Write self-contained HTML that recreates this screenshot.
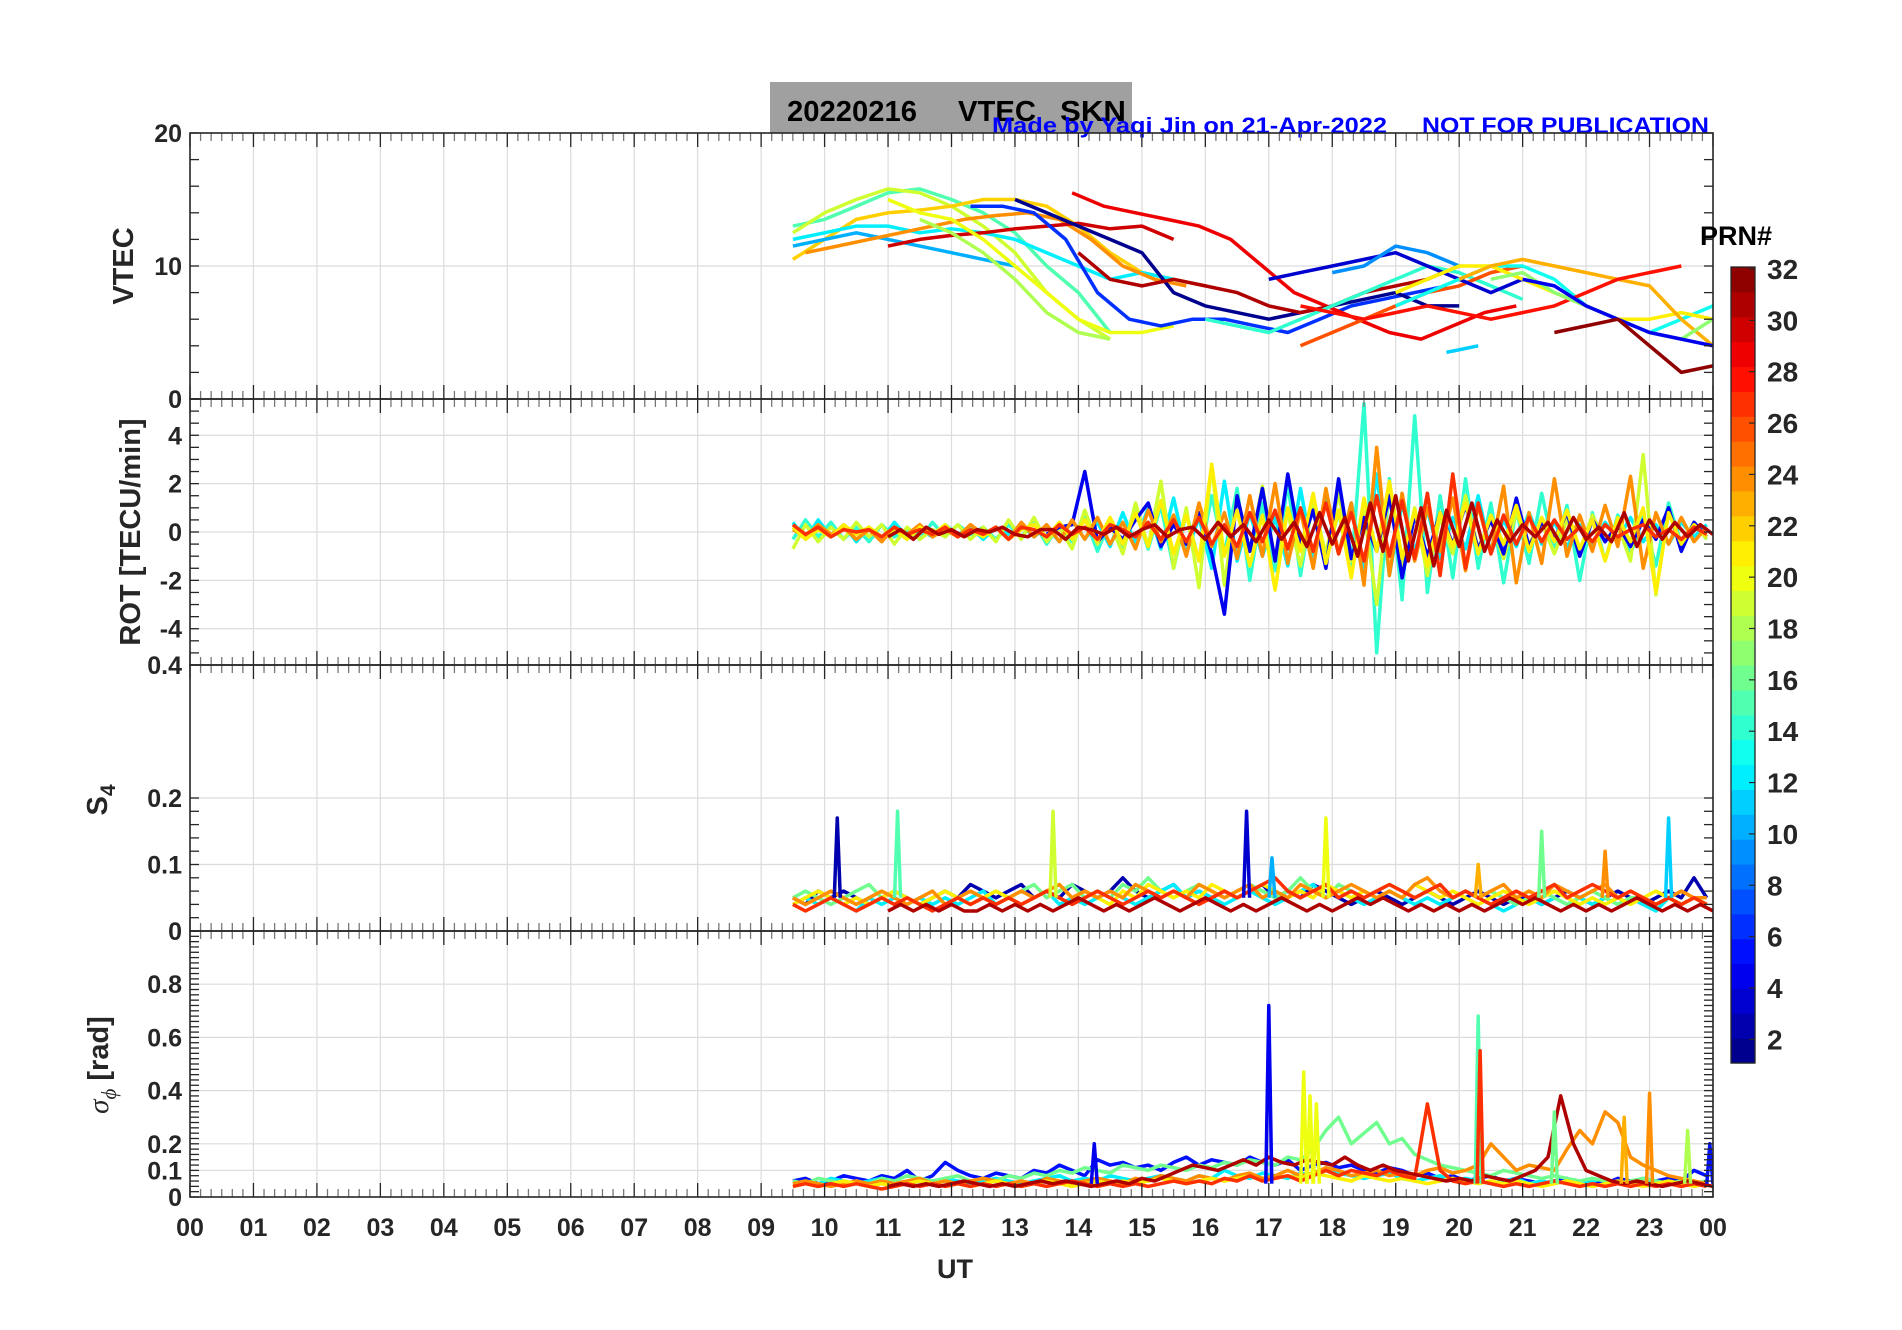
<!DOCTYPE html>
<html><head><meta charset="utf-8"><style>
html,body{margin:0;padding:0;background:#fff;}
svg{display:block;font-family:"Liberation Sans",Arial,sans-serif;}
</style></head><body>
<svg id="fig" width="1902" height="1330" viewBox="0 0 1902 1330" xmlns="http://www.w3.org/2000/svg"></svg>
<script>
// ---------------- DATA ----------------
const hourLabels = ["00","01","02","03","04","05","06","07","08","09","10","11","12","13","14","15","16","17","18","19","20","21","22","23","00"];
const prnLabels = [2,4,6,8,10,12,14,16,18,20,22,24,26,28,30,32];

// VTEC tracks (step 0.5 h)
const vtecPrn   = [15,19,22,12,10,24,30,20,18,6,1,29,31,14,26,3,9,13,11,21,23,28,17,4,32];
const vtecStart = [9.5,9.5,9.5,9.5,9.5,9.7,11.0,11.0,11.5,12.3,13.0,13.9,14.0,16.0,17.5,17.0,18.0,19.0,19.8,19.0,20.0,17.5,20.5,21.0,21.5];
const vtecVals = [
 "13 13.5 14.5 15.5 15.8 15 14 12.5 10 8 5",
 "12.5 14 15 15.8 15.5 14.5 13 11 8 6 4.5",
 "10.5 12 13.5 14 14.2 14.5 15 15 14.5 13 11 9.5 9 8.5",
 "12 12.5 13 13 12.5 12.8 12.5 12 11 10 9 9.5 9",
 "11.5 12 12.5 12 11.5 11 10.5 10",
 "11 11.5 12 12.5 13 13.5 13.8 14 13.5 12 10 9 8.5",
 "11.5 12 12.3 12.5 12.8 13 13.2 12.8 13 12",
 "15 14 13.5 12 10 8 6 5 5 5.5",
 "13.5 12.5 11 9 6.5 5 4.5",
 "14.5 14.5 14 12 8 6 5.5 6 6 5.5 5 6 7 7.5 8 8.5",
 "15 14 13 12 11 8 7 6.5 6 6.5 7 7.5 8 7 7",
 "15.5 14.5 14 13.5 13 12 10 8 7 6 5 4.5 5.5 6.5 7",
 "11 9 8.5 9 8.5 8 7 6.5 7 8 8.5 9 10",
 "6 5.5 5 6 7 8 9 10 9.5 8.5 7.5",
 "4 5 6 7 8 8.5 9.5 10",
 "9 9.5 10 10.5 11 10 9 8 9",
 "9.5 10 11.5 11 10",
 "7 8 9 10 10 9 7 6 5 6 7 8 9 8.5",
 "3.5 4",
 "8 9 10 10 9 8 7 6 6 6.5 6",
 "9 10 10.5 10 9.5 9 8.5 6 4",
 "7 6.5 6 6.5 7 6.5 6 6.5 7 8 9 9.5 10",
 "9 9.5 8 7 6 5 4.5 6",
 "9 8.5 7 6 5 4.5 4",
 "5 5.5 6 4 2 2.5"
];

// ROT series (step 0.2 h)
const rotPrn   = [12,14,19,4,24,21,27,31];
const rotStart = [9.5,9.5,9.5,13.5,9.5,9.5,9.5,11.0];
const rotVals = [
 ".4 -.3 .5 -.2 .3 -.4 .2 -.3 .4 -.2 .1 -.2 .3 -.1 .2 -.3 .2 -.1 .3 -.2 .2 -.4 .5 -.3 .4 -.6 .8 -.5 1 -.7 1.4 -.9 .6 -1.5 2.1 -1.2 .8 -1 .6 -1.4 1.8 -1.1 1.3 -.9 1.2 -1.6 2.4 -1.8 1.2 -.8 .9 -1.1 .6 -.7 1.5 -.9 .5 -.6 .8 -.5 .4 -.6 .3 -.5 .4 -.3 .6 -.4 .3 -.5 .4 -.2 .3",
 "-.3 .5 -.2 .4 -.3 .2 -.4 .3 -.2 .1 -.3 .4 -.2 .3 -.1 .2 -.3 .3 -.2 .4 -.5 .3 -.4 .6 -.8 .5 -.6 .9 -.7 1.1 -1.5 .8 -1.2 1.5 -.9 1.8 -2 1.2 -1.6 2 -1.8 1.4 -1.1 .8 -1.6 5.3 -5 2.2 -2.8 4.8 -2.5 1.5 -1.9 2.2 -1.5 1.2 -2.1 .9 -1.3 1.6 -.8 1.1 -2 .8 -1.2 .7 -.9 .6 -1.4 1.2 -.5 .4 -.3",
 "-.7 .3 -.4 .2 -.3 .4 -.2 .3 -.5 .2 -.3 .1 -.2 .3 -.3 .2 -.4 .5 -.3 .6 -.4 .2 -.7 .9 -.5 .4 -.9 1.2 -.6 2.1 -1.5 1 -2.3 2.8 -2.2 1.5 -.8 1.9 -1.2 .8 -1.4 1.2 -.9 1.6 -1.2 .9 -3 2 -1.4 1 -1.8 .6 -.9 1.5 -.7 .5 -1.1 .8 -.5 .4 -.9 .5 -.8 .7 -.4 .3 -1.2 3.2 -2.6 .9 -.6 .4 -.3",
 "-.1 .2 .3 2.5 -.4 .2 -.3 .5 1.2 -.6 .3 -.5 .8 -.9 -3.4 1.5 -.8 1.8 -1.2 2.4 -.6 .9 -1.5 2.2 -1.1 .6 -.8 1.5 -1.9 .7 -1 .8 -.5 1.1 -.7 .5 -.9 1.4 -.6 .4 -.3 .8 -1 .5 -.4 .3 -.6 .5 -.3 1 -.8 .4 -.2",
 ".1 -.2 .3 -.1 .2 -.3 .1 -.4 .2 -.1 .3 -.2 .1 -.2 .3 -.1 .2 -.3 .4 -.2 .3 -.4 .5 -.3 .6 -.5 .4 -.7 .9 -.4 .7 -1 1.2 -.6 .8 -1.1 1.5 -1 2 -1.3 .9 -1.5 1.8 -.9 1.2 -2.2 3.5 -1.8 1.6 -1.2 1 -.8 1.4 -1.6 1.1 -.9 1.9 -2.1 .8 -1.3 2.2 -1 .7 -.8 1.1 -.6 2.3 -1.5 .8 -.5 .6 -.4 .2",
 ".2 -.3 .1 -.2 .3 -.1 .2 -.2 .1 -.3 .2 -.1 .3 -.2 .1 -.2 .2 -.3 .1 .3 -.2 .4 -.3 .5 -.4 .6 -.5 .8 -.6 1.3 -.9 .7 -1.2 2.8 -1 .9 -1.4 .7 -2.4 1 -.8 1.6 -1.3 .9 -1.9 1.4 -.8 2.1 -1.1 .9 -1.4 .8 -.6 1.2 -.9 .7 -.5 1.1 -.8 .6 -.4 .9 -.7 .5 -1.2 .6 -.4 1 -2.5 .8 -.5 .3 -.2",
 ".3 -.1 .2 -.2 .1 0 .1 -.2 .2 -.1 .1 -.1 .2 -.2 .1 -.1 .2 -.3 .2 .1 -.2 .3 -.1 .2 -.3 .3 .1 -.2 .4 -.3 .5 -.4 .6 -.5 .3 -.6 .8 -.4 .9 -.7 1 -.8 1.2 -.9 .8 -1.2 1.5 -1 1.3 -1.1 1.6 -1.8 2.4 -1.5 1.2 -.9 .7 -.5 .6 -.4 .5 -.3 .2 -.4 .3 -.2 .1 .3 -.2 .1 -.3 .2 -.1",
 "-.2 .1 -.3 .2 -.1 .1 -.2 .1 0 .2 -.1 -.2 .1 .1 -.3 .2 .1 -.1 .2 -.2 .1 .3 -.2 .1 .2 -.3 .4 -.2 .3 -.4 .5 -.3 .4 -.6 .8 -.5 .6 -1 1.2 -.8 1.5 -1.2 1 -1.4 .9 -.6 1.2 -.8 .5 -.4 .3 -.2 .4 -.5 .6 -.3 .2 -.4 .8 -.6 .5 -.3 .4 -.2 .3 -.1"
];

// S4 baselines (step 0.2 h)
const s4Prn   = [2,12,16,21,24,27,31];
const s4Start = [9.5,9.5,9.5,9.5,9.5,9.5,11.0];
const s4Vals = [
 ".05 .04 .06 .05 .06 .05 .04 .05 .06 .05 .04 .05 .06 .05 .07 .06 .05 .06 .07 .05 .06 .05 .07 .06 .05 .06 .08 .06 .05 .06 .07 .05 .06 .05 .06 .05 .06 .07 .05 .06 .05 .07 .06 .05 .04 .05 .06 .05 .04 .05 .06 .05 .04 .05 .06 .05 .04 .05 .05 .04 .05 .06 .05 .04 .05 .06 .05 .04 .05 .06 .05 .08 .05",
 ".04 .05 .04 .05 .04 .03 .05 .04 .05 .04 .05 .04 .05 .04 .05 .06 .04 .05 .04 .05 .06 .04 .05 .04 .05 .06 .05 .04 .05 .06 .07 .05 .06 .05 .04 .05 .06 .05 .04 .05 .06 .07 .05 .06 .05 .04 .05 .06 .05 .04 .05 .04 .05 .06 .05 .04 .03 .04 .05 .04 .05 .04 .05 .04 .05 .04 .05 .04 .03 .05 .04 .05 .04",
 ".05 .06 .05 .04 .05 .06 .07 .05 .06 .05 .04 .05 .06 .05 .04 .05 .06 .05 .06 .07 .05 .06 .07 .05 .06 .05 .07 .06 .08 .06 .05 .06 .07 .06 .05 .06 .07 .06 .05 .06 .08 .06 .05 .07 .06 .05 .06 .07 .06 .05 .06 .07 .05 .06 .05 .06 .05 .04 .05 .06 .05 .04 .05 .06 .05 .04 .05 .05 .04 .05 .04 .05 .04",
 ".04 .05 .06 .05 .04 .05 .04 .05 .06 .05 .04 .05 .06 .05 .04 .05 .06 .05 .04 .05 .06 .07 .05 .06 .05 .04 .06 .05 .07 .06 .05 .06 .05 .07 .06 .05 .06 .07 .06 .05 .06 .05 .07 .06 .05 .06 .05 .06 .05 .07 .06 .05 .06 .05 .04 .05 .06 .05 .04 .05 .06 .05 .04 .05 .04 .05 .04 .05 .06 .05 .04 .05 .04",
 ".05 .04 .05 .06 .05 .04 .05 .06 .05 .04 .05 .06 .04 .05 .06 .05 .04 .05 .06 .05 .06 .07 .05 .06 .05 .06 .05 .07 .06 .05 .06 .05 .07 .06 .05 .06 .07 .05 .06 .05 .07 .06 .05 .06 .07 .06 .05 .06 .05 .07 .08 .06 .05 .06 .05 .06 .07 .05 .06 .05 .07 .06 .05 .06 .07 .05 .06 .05 .04 .05 .06 .05 .05",
 ".04 .03 .04 .05 .04 .03 .04 .05 .04 .05 .04 .03 .04 .05 .04 .05 .04 .05 .04 .05 .06 .05 .04 .05 .06 .05 .04 .05 .06 .05 .06 .05 .04 .05 .06 .05 .06 .07 .08 .06 .05 .06 .07 .05 .06 .05 .06 .07 .06 .05 .06 .07 .05 .06 .05 .04 .05 .06 .05 .06 .07 .05 .06 .07 .06 .05 .06 .05 .04 .05 .04 .05 .04",
 ".03 .04 .03 .04 .03 .04 .03 .03 .04 .03 .04 .03 .04 .03 .04 .05 .04 .03 .04 .03 .04 .05 .04 .03 .04 .05 .04 .03 .04 .03 .04 .05 .04 .03 .04 .03 .04 .05 .04 .05 .04 .03 .04 .03 .04 .03 .04 .03 .04 .05 .04 .05 .04 .03 .04 .03 .04 .03 .04 .05 .04 .03 .04 .03 .04 .03"
];
const s4SpikeTime = [10.2,11.15,13.6,16.65,17.05,17.9,21.3,22.3,23.3,20.3];
const s4SpikeVal  = [0.17,0.18,0.18,0.18,0.11,0.17,0.15,0.12,0.17,0.10];
const s4SpikePrn  = [2,15,19,3,10,20,16,24,11,23];

// sigma-phi baselines (step 0.2 h)
const sigPrn   = [5,12,16,24,21,27,31];
const sigStart = [9.5,9.5,9.5,9.5,9.5,9.5,11.0];
const sigVals = [
 ".06 .07 .05 .06 .08 .07 .06 .08 .07 .1 .06 .08 .13 .1 .08 .07 .09 .08 .07 .1 .09 .12 .1 .08 .14 .12 .13 .11 .12 .1 .13 .15 .12 .14 .13 .12 .15 .13 .12 .14 .1 .12 .13 .11 .12 .1 .09 .11 .1 .08 .09 .07 .08 .06 .07 .08 .06 .07 .06 .05 .06 .07 .05 .06 .05 .07 .06 .05 .06 .07 .06 .1 .08",
 ".05 .06 .05 .07 .06 .05 .06 .07 .06 .05 .06 .05 .07 .06 .05 .06 .07 .06 .05 .06 .07 .08 .06 .07 .06 .08 .07 .06 .07 .08 .07 .06 .08 .07 .1 .08 .07 .09 .08 .07 .09 .08 .1 .09 .08 .07 .08 .09 .07 .06 .07 .08 .06 .07 .06 .05 .06 .07 .05 .06 .05 .06 .05 .06 .07 .05 .06 .05 .06 .05 .06 .05 .06",
 ".06 .05 .07 .06 .05 .06 .05 .07 .06 .08 .07 .06 .07 .08 .06 .07 .06 .08 .07 .09 .08 .1 .09 .11 .1 .09 .12 .11 .1 .12 .11 .1 .12 .11 .13 .12 .14 .13 .12 .15 .14 .18 .25 .3 .2 .24 .28 .2 .22 .16 .14 .12 .11 .1 .09 .08 .1 .09 .08 .07 .08 .07 .06 .07 .06 .05 .06 .07 .06 .05 .06 .05 .06",
 ".05 .06 .05 .04 .05 .06 .05 .06 .05 .06 .07 .05 .06 .05 .06 .07 .06 .05 .06 .05 .07 .06 .05 .06 .07 .06 .05 .07 .06 .08 .07 .06 .08 .07 .06 .08 .09 .07 .08 .1 .08 .09 .11 .1 .08 .09 .1 .08 .09 .08 .1 .11 .09 .1 .12 .2 .15 .1 .12 .11 .1 .18 .25 .2 .32 .28 .15 .12 .1 .08 .07 .06 .05",
 ".04 .05 .04 .05 .06 .05 .04 .05 .04 .05 .06 .05 .04 .05 .04 .05 .06 .05 .04 .05 .06 .05 .04 .05 .06 .05 .06 .05 .06 .07 .06 .05 .06 .07 .06 .07 .08 .06 .07 .08 .07 .09 .08 .07 .06 .08 .07 .06 .07 .06 .05 .06 .07 .06 .05 .06 .05 .06 .05 .04 .05 .06 .05 .04 .05 .06 .05 .04 .05 .06 .05 .04 .05",
 ".04 .05 .04 .05 .04 .05 .04 .03 .04 .05 .04 .05 .04 .05 .04 .05 .04 .05 .04 .05 .04 .05 .06 .05 .04 .05 .04 .05 .04 .05 .06 .05 .06 .05 .07 .06 .08 .06 .07 .08 .06 .08 .1 .08 .1 .09 .08 .1 .08 .07 .35 .1 .06 .05 .06 .05 .04 .05 .04 .05 .06 .05 .04 .05 .04 .05 .04 .05 .04 .05 .04 .05 .04",
 ".04 .05 .04 .05 .04 .05 .06 .05 .04 .05 .04 .05 .06 .05 .06 .05 .04 .05 .06 .05 .07 .06 .08 .1 .12 .11 .1 .12 .14 .12 .15 .13 .12 .14 .13 .12 .15 .12 .1 .12 .1 .09 .08 .07 .06 .07 .06 .08 .07 .06 .08 .1 .15 .38 .2 .1 .08 .06 .05 .06 .05 .04 .05 .06 .05 .04"
];
const sigSpikeTime = [17.0,17.55,17.65,17.75,20.3,20.33,21.5,22.6,23.0,23.6,23.95,14.25];
const sigSpikeVal  = [0.72,0.47,0.38,0.35,0.68,0.55,0.32,0.3,0.39,0.25,0.2,0.2];
const sigSpikePrn  = [4,20,20,20,15,27,16,23,24,18,5,4];

// ---------------- DRAWING ----------------
const NS = "http://www.w3.org/2000/svg";
const svg = document.getElementById("fig");
const L = 190, R = 1713, PH = 266;
const panelTop = [133, 399, 665, 931];
const panelMin = [0, -5.5, 0, 0];
const panelMax = [20, 5.5, 0.4, 1.0];
function xs(h){ return L + (R - L) * h / 24; }
function ys(p, v){ return panelTop[p] + PH * (panelMax[p] - v) / (panelMax[p] - panelMin[p]); }
function jet(prn){
  const t = (prn - 0.5) / 32;
  const c = x => Math.round(255 * Math.max(0, Math.min(1, 1.5 - Math.abs(4 * t - x))));
  return "rgb(" + c(3) + "," + c(2) + "," + c(1) + ")";
}
function el(tag, attrs, parent){
  const e = document.createElementNS(NS, tag);
  for (const k in attrs) e.setAttribute(k, attrs[k]);
  (parent || svg).appendChild(e);
  return e;
}
function txt(s, x, y, size, anchor, parent, extra){
  const t = el("text", Object.assign({x:x, y:y, "font-size":size, "font-weight":"bold", "text-anchor":anchor || "middle", fill:"#262626"}, extra || {}), parent);
  t.textContent = s;
  return t;
}
const defs = el("defs", {});
for (let p = 0; p < 4; p++){
  const cp = el("clipPath", {id:"clip" + p}, defs);
  el("rect", {x:L, y:panelTop[p], width:R - L, height:PH}, cp);
}

// title
const tb = el("rect", {x:770, y:82, width:362, height:51, fill:"#a0a0a0"});


const tt1 = txt("20220216", 787, 121, 29, "start", svg, {fill:"#000", textLength:130, lengthAdjust:"spacingAndGlyphs"});


const tt2 = txt("VTEC", 958, 121, 29, "start", svg, {fill:"#000", textLength:78, lengthAdjust:"spacingAndGlyphs"});


const tt3 = txt("SKN", 1060, 121, 29, "start", svg, {fill:"#000", textLength:66, lengthAdjust:"spacingAndGlyphs"});


const bt = txt("Made by Yaqi Jin on 21-Apr-2022", 992, 133, 22, "start", svg, {fill:"#0000ff", textLength:395, lengthAdjust:"spacingAndGlyphs"});


const nt = txt("NOT FOR PUBLICATION", 1422, 133, 22, "start", svg, {fill:"#0000ff", textLength:287, lengthAdjust:"spacingAndGlyphs"});



const panelNames = ["vtec-panel","rot-panel","s4-panel","sigma-phi-panel"];
const yTicks = [[0,10,20],[-4,-2,0,2,4],[0,0.1,0.2],[0,0.1,0.2,0.4,0.6,0.8]];
const yTickLbl = [["0","10","20"],["-4","-2","0","2","4"],["0","0.1","0.2"],["0","0.1","0.2","0.4","0.6","0.8"]];
const yMinorStep = [2, 0.5, 0.02, 0.02];
const gridG = [], dataG = [], axG = [];
for (let p = 0; p < 4; p++){
  const g = el("g", {});
  
  
  gridG.push(el("g", {}, g));
  dataG.push(el("g", {"stroke-linejoin":"round", fill:"none", "clip-path":"url(#clip" + p + ")"}, g));
  axG.push(el("g", {}, g));
  const T = panelTop[p], B = T + PH;
  for (let h = 1; h < 24; h++) el("line", {x1:xs(h), x2:xs(h), y1:T, y2:B, stroke:"#dcdcdc", "stroke-width":1.2}, gridG[p]);
  yTicks[p].forEach(v => { if (v > panelMin[p] && v < panelMax[p]) el("line", {x1:L, x2:R, y1:ys(p,v), y2:ys(p,v), stroke:"#dcdcdc", "stroke-width":1.2}, gridG[p]); });
}
for (let p = 0; p < 4; p++){
  const T = panelTop[p], B = T + PH, a = axG[p];
  for (let m = 0; m <= 144; m++){
    const x = xs(m / 6), major = (m % 6 === 0);
    const len = major ? 14 : 8;
    el("line", {x1:x, x2:x, y1:B, y2:B - len, stroke:major ? "#262626" : "#777", "stroke-width":1.3}, a);
    el("line", {x1:x, x2:x, y1:T, y2:T + len, stroke:major ? "#262626" : "#777", "stroke-width":1.3}, a);
  }
  const st = yMinorStep[p];
  const n = Math.round((panelMax[p] - panelMin[p]) / st);
  for (let i = 0; i <= n; i++){
    const v = panelMin[p] + i * st;
    if (p === 2 && v > 0.2 + 1e-9) continue;
    const y = ys(p, v);
    el("line", {x1:L, x2:L + 9, y1:y, y2:y, stroke:"#262626", "stroke-width":1.3}, a);
    el("line", {x1:R, x2:R - 9, y1:y, y2:y, stroke:"#262626", "stroke-width":1.3}, a);
  }
  el("rect", {x:L, y:T, width:R - L, height:PH, fill:"none", stroke:"#262626", "stroke-width":1.6}, a);
  yTicks[p].forEach((v, i) => {
    const t = txt(yTickLbl[p][i], L - 8, ys(p, v) + 9, 25, "end", a);
    
    
  });
}
txt("0.4", L - 8, panelTop[2] + 9, 25, "end", axG[2]);
hourLabels.forEach((s, i) => {
  const t = txt(s, xs(i), 1236, 25, "middle", svg);
  
  
});
const ut = txt("UT", 955, 1278, 27, "middle", svg);


function ytitle(s, x, y, name){
  const t = txt(s, x, y, 29, "middle", svg, {transform:"rotate(-90 " + x + " " + y + ")"});
  
  
  return t;
}
ytitle("VTEC", 133, 266, "vtec-axis-title");
ytitle("ROT [TECU/min]", 140, 532, "rot-axis-title");
const s4t = txt("", 107, 800, 29, "middle", svg, {transform:"rotate(-90 107 800)"});
s4t.innerHTML = 'S<tspan font-size="21" dy="8">4</tspan>';


const sgt = txt("", 108, 1065, 29, "middle", svg, {transform:"rotate(-90 108 1065)"});
sgt.innerHTML = '<tspan font-style="italic" font-family="Liberation Serif" font-weight="normal">σ</tspan><tspan dy="8" font-size="21" font-style="italic" font-family="Liberation Serif" font-weight="normal">ϕ</tspan><tspan dy="-8"> [rad]</tspan>';



function drawSeries(p, prns, starts, vals, step, width, name){
  prns.forEach((prn, i) => {
    const v = vals[i].trim().split(/\s+/).map(Number);
    const pts = v.map((y, j) => xs(starts[i] + j * step).toFixed(1) + "," + ys(p, Math.max(panelMin[p], Math.min(panelMax[p], y))).toFixed(1)).join(" ");
    const pl = el("polyline", {points:pts, stroke:jet(prn), "stroke-width":width}, dataG[p]);
    
    
  });
}
function drawSpikes(p, times, valsA, prns, name){
  times.forEach((t, i) => {
    const x = xs(t);
    const pl = el("polyline", {points:(x-3)+","+ys(p,0.05)+" "+x+","+ys(p,valsA[i])+" "+(x+3)+","+ys(p,0.05), stroke:jet(prns[i]), "stroke-width":3.5}, dataG[p]);
    
    
  });
}
drawSeries(0, vtecPrn, vtecStart, vtecVals, 0.5, 3.5, "vtec");
drawSeries(1, rotPrn, rotStart, rotVals, 0.2, 3.5, "rot");
drawSeries(2, s4Prn, s4Start, s4Vals, 0.2, 3.5, "s4");
drawSpikes(2, s4SpikeTime, s4SpikeVal, s4SpikePrn, "s4");
drawSeries(3, sigPrn, sigStart, sigVals, 0.2, 3.5, "sigma");
drawSpikes(3, sigSpikeTime, sigSpikeVal, sigSpikePrn, "sigma");

const cb = el("g", {});


const CT = 267, CB = 1063, CX = 1731, CW = 24;
for (let k = 1; k <= 32; k++){
  const y0 = CT + (CB - CT) * (32 - k) / 32;
  el("rect", {x:CX, y:y0, width:CW, height:(CB - CT) / 32 + 0.6, fill:jet(k)}, cb);
}
el("rect", {x:CX, y:CT, width:CW, height:CB - CT, fill:"none", stroke:"#262626", "stroke-width":1.3}, cb);
prnLabels.forEach(n => {
  const y = CT + (CB - CT) * (32 - n) / 31 + 2;
  el("line", {x1:CX + CW - 6, x2:CX + CW, y1:y, y2:y, stroke:"#262626", "stroke-width":1.2}, cb);
  const t = txt(String(n), CX + 36, y + 10, 28, "start", cb);
  
  
});
const pr = txt("PRN#", 1700, 245, 27, "start", svg, {fill:"#000"});


</script>
</body></html>
